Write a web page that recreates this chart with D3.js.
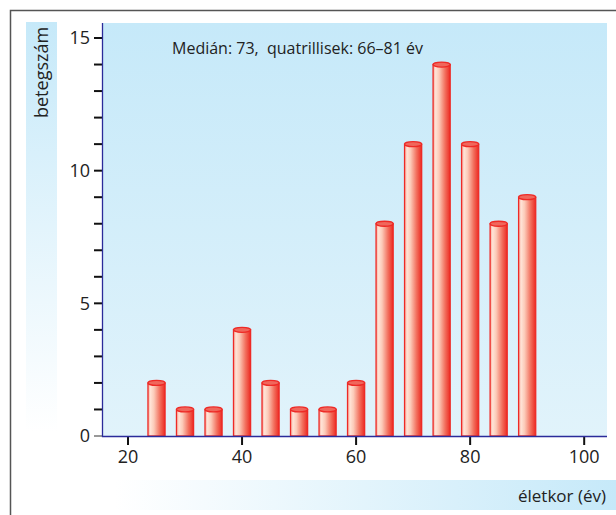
<!DOCTYPE html>
<html>
<head>
<meta charset="utf-8">
<script src="https://cdn.jsdelivr.net/npm/d3@7"></script>
<style>
  html, body { margin: 0; padding: 0; background: #fff; }
  svg { display: block; font-family: "Open Sans", "Noto Sans", sans-serif; }
</style>
</head>
<body>
<svg id="chart" width="616" height="515"></svg>
<script>
// Age groups (bin centres, years) and patient counts per group
const ages = [25, 30, 35, 40, 45, 50, 55, 60, 65, 70, 75, 80, 85, 90];
const counts = [2, 1, 1, 4, 2, 1, 1, 2, 8, 11, 14, 11, 8, 9];
const xTicks = [20, 40, 60, 80, 100];
const yTicks = [0, 5, 10, 15];
const yMinorTicks = d3.range(0, 16);
const note = "Medián: 73,  quatrillisek: 66–81 év";
const xTitle = "életkor (év)";
const yTitle = "betegszám";

const svg = d3.select("#chart");
const plot = { left: 102, top: 23, right: 607, bottom: 436 };

const x = d3.scaleLinear().domain([15.44, 104]).range([plot.left, plot.right]);
const y = d3.scaleLinear().domain([0, 15]).range([plot.bottom, 38]);

const defs = svg.append("defs");

const bg = defs.append("linearGradient").attr("id", "bg")
  .attr("x1", 0).attr("y1", 0).attr("x2", 0).attr("y2", 1);
bg.append("stop").attr("offset", 0).attr("stop-color", "#c6e9f9");
bg.append("stop").attr("offset", 1).attr("stop-color", "#e1f3fb");

const yPanel = defs.append("linearGradient").attr("id", "ypanel")
  .attr("x1", 0).attr("y1", 0).attr("x2", 0).attr("y2", 1);
yPanel.append("stop").attr("offset", 0).attr("stop-color", "#c6e9f9");
yPanel.append("stop").attr("offset", 1).attr("stop-color", "#ffffff");

const xPanel = defs.append("linearGradient").attr("id", "xpanel")
  .attr("x1", 0).attr("y1", 0).attr("x2", 1).attr("y2", 0);
xPanel.append("stop").attr("offset", 0).attr("stop-color", "#ffffff");
xPanel.append("stop").attr("offset", 1).attr("stop-color", "#c6e9f9");

const cyl = defs.append("linearGradient").attr("id", "cyl")
  .attr("x1", 0).attr("y1", 0).attr("x2", 1).attr("y2", 0);
cyl.append("stop").attr("offset", 0).attr("stop-color", "#f7a99a");
cyl.append("stop").attr("offset", 0.15).attr("stop-color", "#ffe3d6");
cyl.append("stop").attr("offset", 0.35).attr("stop-color", "#fccab8");
cyl.append("stop").attr("offset", 0.7).attr("stop-color", "#f2705e");
cyl.append("stop").attr("offset", 1).attr("stop-color", "#ec2a22");

// outer frame
svg.append("path")
  .attr("d", "M10.5,515 V10.5 H616")
  .attr("fill", "none").attr("stroke", "#555").attr("stroke-width", 1.5);

// title panels
svg.append("rect").attr("x", 26).attr("y", 22).attr("width", 31).attr("height", 410)
  .attr("fill", "url(#ypanel)");
svg.append("rect").attr("x", 115).attr("y", 480).attr("width", 501).attr("height", 30)
  .attr("fill", "url(#xpanel)");

// plot background
svg.append("rect")
  .attr("x", plot.left).attr("y", plot.top)
  .attr("width", plot.right - plot.left).attr("height", plot.bottom - plot.top)
  .attr("fill", "url(#bg)");

// y axis
const yAxisG = svg.append("g").attr("transform", `translate(${plot.left},0)`);
yAxisG.selectAll("line.minor").data(yMinorTicks).join("line")
  .attr("x1", -8).attr("x2", 0)
  .attr("y1", d => y(d)).attr("y2", d => y(d))
  .attr("stroke", d => d === 0 ? "#999" : "#111").attr("stroke-width", 2);
yAxisG.selectAll("text").data(yTicks).join("text")
  .attr("x", -12).attr("y", d => y(d)).attr("dy", "0.36em")
  .attr("text-anchor", "end").attr("font-size", 18).attr("fill", "#222")
  .text(d => d);

// x axis ticks
const xAxisG = svg.append("g").attr("transform", `translate(0,${plot.bottom})`);
xAxisG.selectAll("line").data(xTicks).join("line")
  .attr("x1", d => x(d)).attr("x2", d => x(d))
  .attr("y1", 0).attr("y2", 9)
  .attr("stroke", "#111").attr("stroke-width", 2);
xAxisG.selectAll("text").data(xTicks).join("text")
  .attr("x", d => x(d)).attr("y", 27)
  .attr("text-anchor", "middle").attr("font-size", 18).attr("fill", "#222")
  .text(d => d);

// cylinder bars
const half = 1.5;
const bars = svg.append("g").selectAll("g").data(ages.map((a, i) => ({ a, v: counts[i] }))).join("g");
bars.append("rect")
  .attr("x", d => x(d.a - half))
  .attr("y", d => y(d.v))
  .attr("width", d => x(d.a + half) - x(d.a - half))
  .attr("height", d => y(0) - y(d.v))
  .attr("fill", "url(#cyl)")
  .attr("stroke", "#ee2a26").attr("stroke-width", 1.3);
bars.append("ellipse")
  .attr("cx", d => x(d.a))
  .attr("cy", d => y(d.v))
  .attr("rx", d => (x(d.a + half) - x(d.a - half)) / 2)
  .attr("ry", 2.5)
  .attr("fill", "#f0675c")
  .attr("stroke", "#ee2a26").attr("stroke-width", 1.3);

// axis lines
svg.append("path")
  .attr("d", `M${plot.left + 0.5},${plot.top} V${plot.bottom + 0.5} H${plot.right}`)
  .attr("fill", "none").attr("stroke", "#2b2b9a").attr("stroke-width", 1.3);

// annotation
svg.append("text").attr("x", 172).attr("y", 54)
  .style("white-space", "pre").attr("xml:space", "preserve")
  .attr("font-size", 16).attr("fill", "#222").text(note);

// axis titles
svg.append("text").attr("x", 606).attr("y", 502)
  .attr("text-anchor", "end").attr("font-size", 17).attr("fill", "#222").text(xTitle);
svg.append("text")
  .attr("transform", "translate(48,118) rotate(-90)")
  .attr("text-anchor", "start").attr("font-size", 18).attr("fill", "#222").text(yTitle);
</script>
</body>
</html>
